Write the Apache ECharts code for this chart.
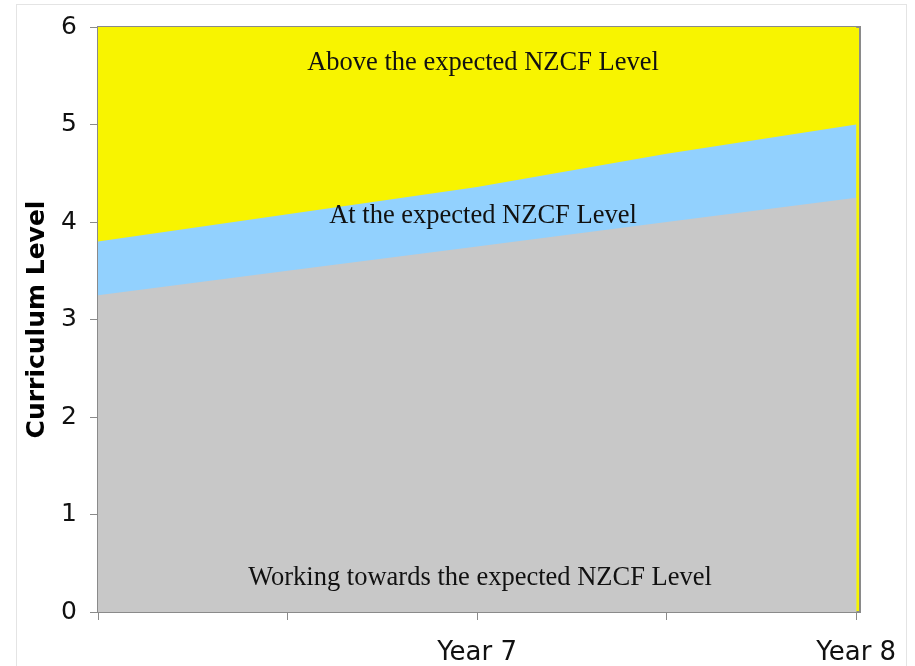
<!DOCTYPE html>
<html>
<head>
<meta charset="utf-8">
<style>
  html, body { margin: 0; padding: 0; background: #fff; }
  #frame { position: absolute; left: 16px; top: 4px; width: 889px; height: 700px; border: 1px solid #e4e4e4; }
  #chart { position: absolute; left: 0; top: 0; width: 915px; height: 666px; }
</style>
<script src="https://cdn.jsdelivr.net/npm/echarts@6/dist/echarts.min.js"></script>
</head>
<body>
<div id="frame"></div>
<div id="chart"></div>
<script>
// x positions (4 intervals); labelled ticks
const xPositions = [0, 1, 2, 3, 4];
const xTickLabels = { 2: 'Year 7', 4: 'Year 8' };
// Upper boundaries of each band (curriculum level)
const workingTowardsTop = [3.25, 3.5, 3.75, 4.0, 4.25];
const atExpectedTop     = [3.8, 4.08, 4.36, 4.7, 5.0];
const aboveExpectedTop  = [6, 6, 6, 6, 6];
const yTicks = [0, 1, 2, 3, 4, 5, 6];
const bandLabels = ['Above the expected NZCF Level', 'At the expected NZCF Level', 'Working towards the expected NZCF Level'];

const pair = arr => xPositions.map((x, i) => [x, arr[i]]);
const chart = echarts.init(document.getElementById('chart'));
const areaSeries = (name, arr, color) => ({
  name, type: 'line', data: pair(arr), symbol: 'none', silent: true,
  lineStyle: { width: 0 }, areaStyle: { color, opacity: 1 }, animation: false
});
const txt = (s, x, y) => ({ type: 'text', x, y, z: 100,
  style: { text: s, font: '26.5px "Liberation Serif"', fill: '#111', textAlign: 'center', textVerticalAlign: 'middle' } });
chart.setOption({
  animation: false,
  grid: { left: 98, right: 55, top: 27, bottom: 54, show: true, backgroundColor: '#f8f400', borderColor: '#8a8a8a', borderWidth: 2 },
  xAxis: {
    type: 'value', min: 0, max: 4.02,
    axisLine: { lineStyle: { color: '#8a8a8a', width: 2 } },
    axisTick: { customValues: xPositions, length: 8, lineStyle: { color: '#8a8a8a', width: 1 } },
    axisLabel: { customValues: [2, 4], formatter: v => xTickLabels[v] || '', margin: 28,
      fontFamily: 'DejaVu Sans', fontSize: 26, color: '#111' },
    splitLine: { show: false }
  },
  yAxis: {
    type: 'value', min: 0, max: 6, interval: 1,
    name: 'Curriculum Level', nameLocation: 'middle', nameGap: 47,
    nameTextStyle: { fontFamily: 'DejaVu Sans', fontWeight: 'bold', fontSize: 25, color: '#000' },
    axisLine: { show: true, lineStyle: { color: '#8a8a8a', width: 2 } },
    axisTick: { show: true, length: 8, lineStyle: { color: '#8a8a8a', width: 1 } },
    axisLabel: { formatter: v => yTicks.includes(v) ? String(v) : '', margin: 21,
      fontFamily: 'DejaVu Sans', fontSize: 25, color: '#111' },
    splitLine: { show: false }
  },
  series: [
    areaSeries('Above', aboveExpectedTop, '#f8f400'),
    areaSeries('At', atExpectedTop, '#92d1fe'),
    areaSeries('Working', workingTowardsTop, '#c8c8c8')
  ],
  graphic: [
    txt(bandLabels[0], 483, 63),
    txt(bandLabels[1], 483, 216),
    txt(bandLabels[2], 480, 578)
  ]
});
</script>
</body>
</html>
